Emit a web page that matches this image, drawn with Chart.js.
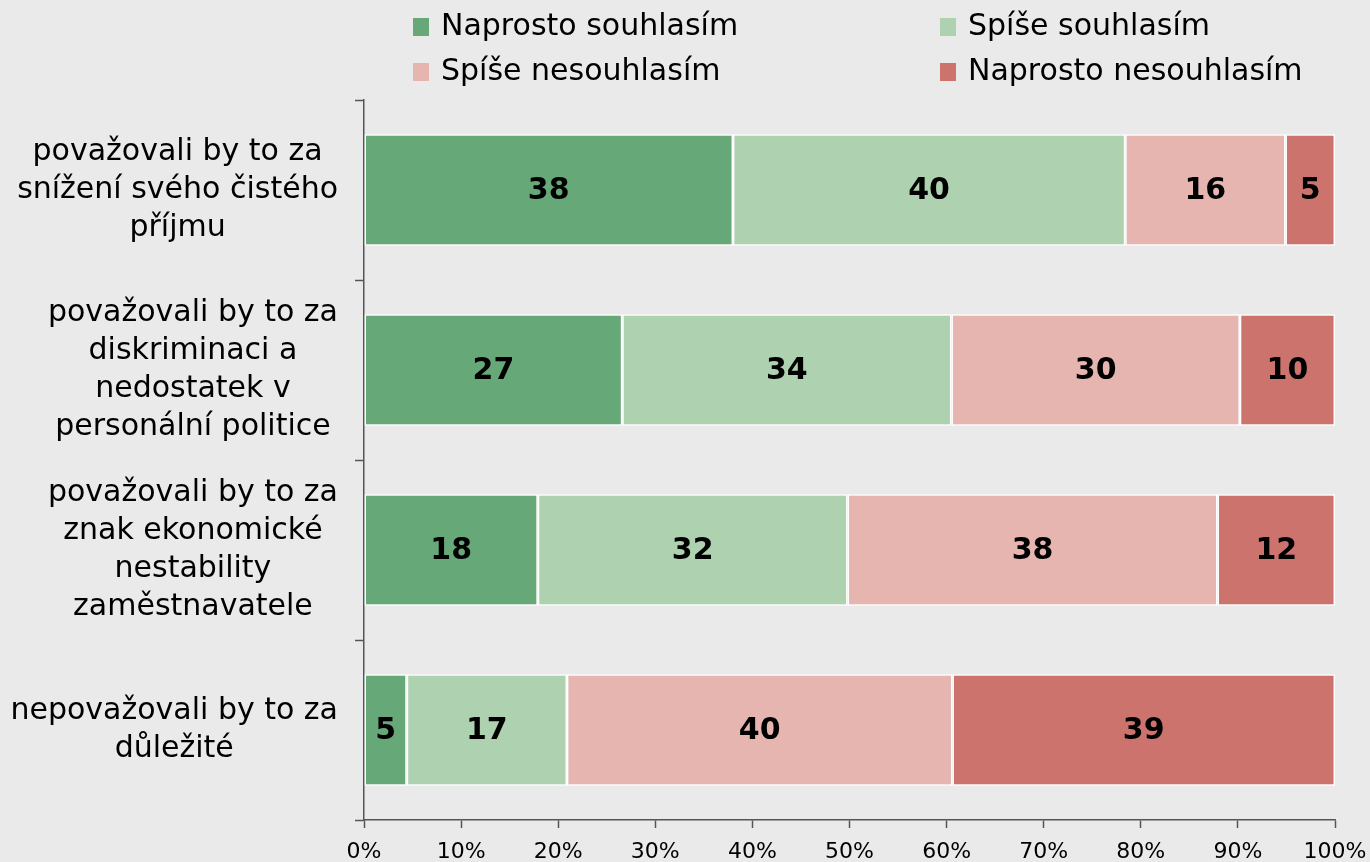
<!DOCTYPE html>
<html lang="cs">
  <head>
    <meta charset="UTF-8" />
    <title>Postoje zaměstnanců</title>
    <script src="https://cdn.jsdelivr.net/npm/chart.js"></script>
    <style>
      html,
      body {
        margin: 0;
        padding: 0;
        background: #eaeaea;
        font-family: "DejaVu Sans", Verdana, sans-serif;
      }
      #wrap {
        position: relative;
        width: 1370px;
        height: 862px;
      }
      .legend-item {
        position: absolute;
        font-size: 30px;
        line-height: 34px;
        color: #000;
        white-space: nowrap;
      }
      .legend-item span.box {
        display: inline-block;
        width: 16px;
        height: 18px;
        margin-right: 12px;
        vertical-align: -1px;
      }
    </style>
  </head>
  <body>
    <div id="wrap">
      <canvas id="chart" width="1370" height="862"></canvas>
      <div class="legend-item" style="left: 413px; top: 8px">
        <span class="box" style="background: #67a878"></span>Naprosto souhlasím
      </div>
      <div class="legend-item" style="left: 940px; top: 8px">
        <span class="box" style="background: #aed2b0"></span>Spíše souhlasím
      </div>
      <div class="legend-item" style="left: 413px; top: 53px">
        <span class="box" style="background: #e6b5b0"></span>Spíše nesouhlasím
      </div>
      <div class="legend-item" style="left: 940px; top: 53px">
        <span class="box" style="background: #cc736e"></span>Naprosto nesouhlasím
      </div>
    </div>

    <script>
      // kategorie (řádky popisků)
      const categories = [
        ["považovali by to za", "snížení svého čistého", "příjmu"],
        ["považovali by to za", "diskriminaci a", "nedostatek v", "personální politice"],
        ["považovali by to za", "znak ekonomické", "nestability", "zaměstnavatele"],
        ["nepovažovali by to za", "důležité"],
      ];

      // podíly odečtené z šířky pruhů (%)
      const naprostoSouhlasim = [38.0, 26.6, 17.9, 4.4];
      const spiseSouhlasim = [40.4, 33.9, 31.9, 16.5];
      const spiseNesouhlasim = [16.5, 29.7, 38.1, 39.7];
      const naprostoNesouhlasim = [5.1, 9.8, 12.1, 39.4];

      // hodnoty vypsané v pruzích
      const shownNaprostoSouhlasim = [38, 27, 18, 5];
      const shownSpiseSouhlasim = [40, 34, 32, 17];
      const shownSpiseNesouhlasim = [16, 30, 38, 40];
      const shownNaprostoNesouhlasim = [5, 10, 12, 39];

      const xTicks = [0, 10, 20, 30, 40, 50, 60, 70, 80, 90, 100];

      const FONT = "'DejaVu Sans', Verdana, sans-serif";

      // popisky uvnitř pruhů
      const barLabels = {
        id: "barLabels",
        afterDatasetsDraw(chart) {
          const ctx = chart.ctx;
          ctx.save();
          ctx.font = "bold 30px " + FONT;
          ctx.fillStyle = "#000";
          ctx.textAlign = "center";
          ctx.textBaseline = "middle";
          chart.data.datasets.forEach((ds, i) => {
            chart.getDatasetMeta(i).data.forEach((bar, j) => {
              const x = (bar.x + bar.base) / 2;
              ctx.fillText(String(ds.shown[j]), x, bar.y + 1);
            });
          });
          ctx.restore();
        },
      };

      // popisky kategorií: blok zarovnaný vpravo, řádky na střed
      const catLabels = {
        id: "catLabels",
        afterDraw(chart) {
          const ctx = chart.ctx;
          const y = chart.scales.y;
          const right = 338;
          const lh = 38;
          ctx.save();
          ctx.font = "30px " + FONT;
          ctx.fillStyle = "#000";
          ctx.textAlign = "center";
          ctx.textBaseline = "middle";
          categories.forEach((lines, i) => {
            const w = Math.max(...lines.map((l) => ctx.measureText(l).width));
            const cx = right - w / 2;
            const cy = y.getPixelForValue(i);
            const top = cy - ((lines.length - 1) * lh) / 2;
            lines.forEach((l, k) => ctx.fillText(l, cx, top + k * lh));
          });
          ctx.restore();
        },
      };

      const common = {
        borderColor: "#ffffff",
        borderWidth: 1.5,
        borderSkipped: false,
        categoryPercentage: 1,
        barPercentage: 0.62,
      };

      new Chart(document.getElementById("chart"), {
        type: "bar",
        data: {
          labels: categories.map((c) => c.join(" ")),
          datasets: [
            { label: "Naprosto souhlasím", data: naprostoSouhlasim, shown: shownNaprostoSouhlasim, backgroundColor: "#67a878", ...common },
            { label: "Spíše souhlasím", data: spiseSouhlasim, shown: shownSpiseSouhlasim, backgroundColor: "#aed2b0", ...common },
            { label: "Spíše nesouhlasím", data: spiseNesouhlasim, shown: shownSpiseNesouhlasim, backgroundColor: "#e6b5b0", ...common },
            { label: "Naprosto nesouhlasím", data: naprostoNesouhlasim, shown: shownNaprostoNesouhlasim, backgroundColor: "#cc736e", ...common },
          ],
        },
        options: {
          indexAxis: "y",
          responsive: false,
          animation: false,
          events: [],
          layout: { padding: { top: 100, right: 35, left: 0, bottom: 0 } },
          scales: {
            x: {
              stacked: true,
              min: 0,
              max: 100,
              afterBuildTicks: (s) => {
                s.ticks = xTicks.map((v) => ({ value: v }));
              },
              afterFit: (s) => {
                s.height = 42;
                s.paddingLeft = 0;
                s.paddingRight = 0;
              },
              ticks: {
                callback: (v) => v + "%",
                font: { family: FONT, size: 22 },
                color: "#000",
                padding: 11,
                maxRotation: 0,
              },
              grid: { drawOnChartArea: false, tickLength: 8, tickColor: "#555", tickWidth: 1.5 },
              border: { color: "#555", width: 1.5 },
            },
            y: {
              stacked: true,
              afterFit: (s) => {
                s.width = 364;
                s.paddingTop = 0;
                s.paddingBottom = 0;
              },
              ticks: { display: false },
              grid: { drawOnChartArea: false, offset: true, tickLength: 9, tickColor: "#555", tickWidth: 1.5 },
              border: { color: "#555", width: 1.5 },
            },
          },
          plugins: {
            legend: { display: false },
            tooltip: { enabled: false },
          },
        },
        plugins: [barLabels, catLabels],
      });
    </script>
  </body>
</html>
